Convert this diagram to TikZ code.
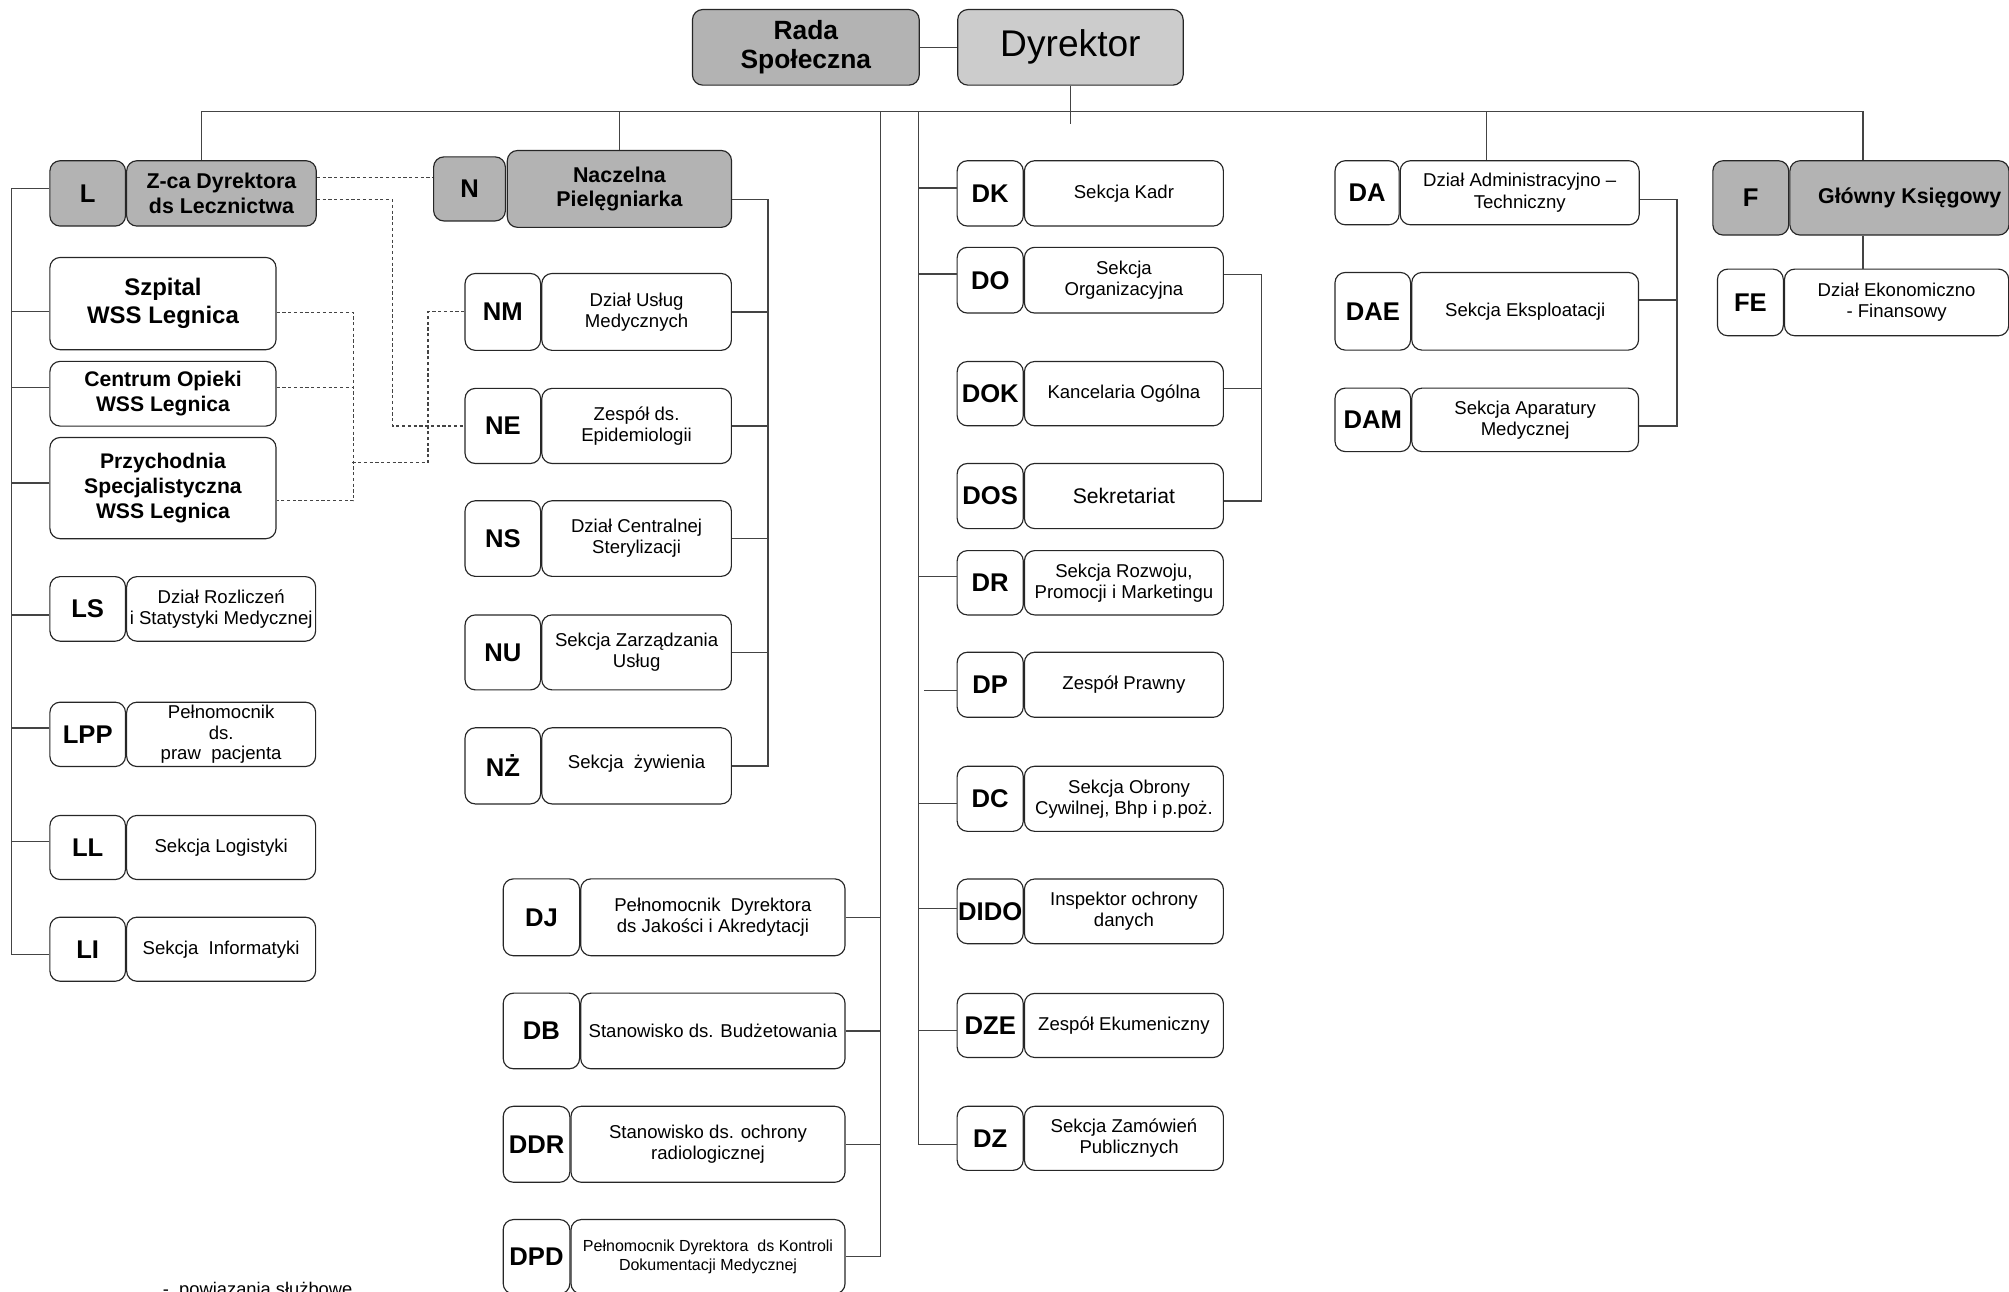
\documentclass[tikz,border=0pt]{standalone}
\usepackage{fontspec}
\setmainfont{Liberation Sans}
\usetikzlibrary{positioning}

\definecolor{headgray}{HTML}{B3B3B3}
\definecolor{topgray}{HTML}{CCCCCC}
\definecolor{linegray}{HTML}{444444}

\tikzset{
  unit/.style={draw=black!85, line width=0.9pt, rounded corners=8pt, inner sep=0pt,
    align=center, anchor=north west, font=\fontsize{14.5}{16.5}\selectfont},
  code/.style={unit, font=\bfseries\fontsize{20}{22}\selectfont},
  head/.style={fill=headgray, font=\bfseries\fontsize{16.7}{19}\selectfont},
  link/.style={draw=linegray, line width=1pt},
  aside/.style={draw=linegray, line width=0.9pt, dash pattern=on 2.5pt off 2pt},
}

\begin{document}
\begin{tikzpicture}[x=1pt,y=-1pt,node distance=0pt]
\useasboundingbox (0,0) rectangle (1568,1008);

% top
\node[unit, fill=headgray, minimum width=177, minimum height=59,
  font=\bfseries\fontsize{20.6}{23}\selectfont] (rada) at (540,7) {Rada\\Społeczna};
\node[unit, fill=topgray, minimum width=176, minimum height=59,
  font=\fontsize{29}{32}\selectfont] (dyr) at (747,7) {Dyrektor};

% Z-ca Dyrektora ds Lecznictwa
\node[code, head, font=\bfseries\fontsize{20}{22}\selectfont, minimum width=59, minimum height=51] (L) at (38.5,125) {L};
\node[unit, head, minimum width=148, minimum height=51, right=of L] (Zca) {Z-ca Dyrektora\\ds Lecznictwa};
\node[unit, minimum width=176.5, minimum height=72, font=\bfseries\fontsize{18.7}{21.5}\selectfont] (szp) at (38.5,200.5) {Szpital\\WSS Legnica};
\node[unit, minimum width=176.5, minimum height=50.5, font=\bfseries\fontsize{16.5}{19}\selectfont] (cop) at (38.5,281.6) {Centrum Opieki\\WSS Legnica};
\node[unit, minimum width=176.5, minimum height=79, font=\bfseries\fontsize{16.5}{19.5}\selectfont] (prz) at (38.5,341) {Przychodnia\\Specjalistyczna\\WSS Legnica};
\node[code, minimum width=59, minimum height=50.4] (LS) at (38.5,449.6) {LS};
\node[unit, minimum width=147.5, minimum height=50.4, right=of LS] (LSl) {Dział Rozliczeń\\i Statystyki Medycznej};
\node[code, minimum width=59, minimum height=50.2] (LPP) at (38.5,547.6) {LPP};
\node[unit, minimum width=147.5, minimum height=50.2, right=of LPP, font=\fontsize{14.5}{16}\selectfont] (LPPl) {Pełnomocnik\\ds.\\praw\ \ pacjenta};
\node[code, minimum width=59, minimum height=50] (LL) at (38.5,636) {LL};
\node[unit, minimum width=147.5, minimum height=50, right=of LL] (LLl) {Sekcja Logistyki};
\node[code, minimum width=59, minimum height=50] (LI) at (38.5,715.4) {LI};
\node[unit, minimum width=147.5, minimum height=50, right=of LI] (LIl) {Sekcja\ \ Informatyki};

% Naczelna Pielegniarka
\node[code, head, font=\bfseries\fontsize{20}{22}\selectfont, minimum width=56, minimum height=50] (N) at (338,122) {N};
\node[unit, head, minimum width=175, minimum height=60] (nacz) at (395.5,117) {Naczelna\\Pielęgniarka};
\node[code, minimum width=59, minimum height=60] (NM) at (362.5,213) {NM};
\node[unit, minimum width=148, minimum height=60, right=of NM] (NMl) {Dział Usług\\Medycznych};
\node[code, minimum width=59, minimum height=58.6] (NE) at (362.5,302.7) {NE};
\node[unit, minimum width=148, minimum height=58.6, right=of NE] (NEl) {Zespół ds.\\Epidemiologii};
\node[code, minimum width=59, minimum height=59] (NS) at (362.5,390.4) {NS};
\node[unit, minimum width=148, minimum height=59, right=of NS] (NSl) {Dział Centralnej\\Sterylizacji};
\node[code, minimum width=59, minimum height=58.5] (NU) at (362.5,479.5) {NU};
\node[unit, minimum width=148, minimum height=58.5, right=of NU] (NUl) {Sekcja Zarządzania\\Usług};
\node[code, minimum width=59, minimum height=59.4] (NZ) at (362.5,567.6) {NŻ};
\node[unit, minimum width=148, minimum height=59.4, right=of NZ] (NZl) {\raisebox{6pt}{Sekcja\ \ żywienia}};

% stanowiska przy Dyrektorze
\node[code, minimum width=59.6, minimum height=60] (DJ) at (392.3,685.5) {DJ};
\node[unit, minimum width=206.3, minimum height=60, right=of DJ] (DJl) {Pełnomocnik\ \ Dyrektora\\ds Jakości i Akredytacji};
\node[code, minimum width=59.6, minimum height=59] (DB) at (392.3,774.7) {DB};
\node[unit, minimum width=206.3, minimum height=59, right=of DB] (DBl) {Stanowisko ds. Budżetowania};
\node[code, minimum width=52, minimum height=59.3] (DDR) at (392.3,863) {DDR};
\node[unit, minimum width=213.9, minimum height=59.3, right=of DDR] (DDRl) {Stanowisko ds. ochrony\\radiologicznej};
\node[code, minimum width=52, minimum height=58] (DPD) at (392.3,951.4) {DPD};
\node[unit, minimum width=213.9, minimum height=58, right=of DPD, font=\fontsize{12.5}{14.5}\selectfont] (DPDl) {Pełnomocnik Dyrektora\ \ ds Kontroli\\Dokumentacji Medycznej};

% dzialy Dyrektora
\node[code, minimum width=51.6, minimum height=51] (DK) at (746.6,125) {DK};
\node[unit, minimum width=155.3, minimum height=51, right=of DK] (DKl) {Sekcja Kadr};
\node[code, minimum width=51.6, minimum height=51.3] (DO) at (746.6,192.6) {DO};
\node[unit, minimum width=155.3, minimum height=51.3, right=of DO] (DOl) {Sekcja\\Organizacyjna};
\node[code, minimum width=51.6, minimum height=50.2] (DOK) at (746.6,281.7) {DOK};
\node[unit, minimum width=155.3, minimum height=50.2, right=of DOK] (DOKl) {Kancelaria Ogólna};
\node[code, minimum width=51.6, minimum height=50.8] (DOS) at (746.6,361.3) {DOS};
\node[unit, minimum width=155.3, minimum height=50.8, right=of DOS, font=\fontsize{16.5}{19}\selectfont] (DOSl) {Sekretariat};
\node[code, minimum width=51.6, minimum height=50.2] (DR) at (746.6,429.3) {DR};
\node[unit, minimum width=155.3, minimum height=50.2, right=of DR] (DRl) {Sekcja Rozwoju,\\Promocji i Marketingu};
\node[code, minimum width=51.6, minimum height=50.8] (DP) at (746.6,508.6) {DP};
\node[unit, minimum width=155.3, minimum height=50.8, right=of DP] (DPl) {Zespół Prawny};
\node[code, minimum width=51.6, minimum height=50.8] (DC) at (746.6,597.6) {DC};
\node[unit, minimum width=155.3, minimum height=50.8, right=of DC] (DCl) {\ \ Sekcja Obrony\\Cywilnej, Bhp i p.poż.};
\node[code, minimum width=51.6, minimum height=50.5] (DIDO) at (746.6,685.6) {DIDO};
\node[unit, minimum width=155.3, minimum height=50.5, right=of DIDO] (DIDOl) {Inspektor ochrony\\danych};
\node[code, minimum width=51.6, minimum height=50] (DZE) at (746.6,774.9) {DZE};
\node[unit, minimum width=155.3, minimum height=50, right=of DZE] (DZEl) {Zespół Ekumeniczny};
\node[code, minimum width=51.6, minimum height=50] (DZ) at (746.6,863) {DZ};
\node[unit, minimum width=155.3, minimum height=50, right=of DZ] (DZl) {Sekcja Zamówień\\\ \ Publicznych};

% Dzial Administracyjno - Techniczny
\node[code, minimum width=50, minimum height=50] (DA) at (1041.5,125) {DA};
\node[unit, minimum width=186.5, minimum height=50, right=of DA] (DAl) {Dział Administracyjno –\\Techniczny};
\node[code, minimum width=59, minimum height=60.6] (DAE) at (1041.5,212.2) {DAE};
\node[unit, minimum width=177, minimum height=60.6, right=of DAE] (DAEl) {Sekcja Eksploatacji};
\node[code, minimum width=59, minimum height=49.5] (DAM) at (1041.5,302.5) {DAM};
\node[unit, minimum width=177, minimum height=49.5, right=of DAM] (DAMl) {Sekcja Aparatury\\Medycznej};

% Glowny Ksiegowy
\node[code, head, font=\bfseries\fontsize{20}{22}\selectfont, minimum width=59.2, minimum height=58] (F) at (1336.4,125) {F};
\node[unit, head, minimum width=171, minimum height=58, right=of F] (glow) {\hspace*{16pt}Główny Księgowy};
\node[code, minimum width=51.4, minimum height=52] (FE) at (1340,209.6) {FE};
\node[unit, minimum width=175, minimum height=52, right=of FE] (FEl) {Dział Ekonomiczno\\- Finansowy};

% legenda
\node[anchor=base west, inner sep=0pt, font=\fontsize{14.3}{16}\selectfont] (legend) at (127,1011.5) {-\ \ powiązania służbowe};

% magistrala
\coordinate (tapL) at (157,87);
\coordinate (tapD1) at (687,87);
\coordinate (tapD2) at (717,87);
\coordinate (tapA) at (1160,87);
\coordinate (tapF) at (1454,87);
\coordinate (cross) at (275,361);

\draw[link] (rada) -- (dyr);
\draw[link] (dyr.south) -- ++(0,30);
\draw[link] (tapL) -- (tapF);
\draw[link] (tapL) -- (tapL |- Zca.north);
\draw[link] (nacz.north |- tapL) -- (nacz.north);
\draw[link] (tapA) -- (tapA |- DAl.north);
\draw[link] (tapF) -- (tapF |- glow.north);
\draw[link] (tapF |- glow.south) -- (tapF |- FEl.north);

% pion lecznictwa
\draw[link] ([yshift=4]L.west) -- ++(-29.5,0) |- ([yshift=-4]LI.west);
\draw[link] ([yshift=-6]szp.west) -- ++(-29.5,0);
\draw[link] ([yshift=5]cop.west) -- ++(-29.5,0);
\draw[link] ([yshift=4]prz.west) -- ++(-29.5,0);
\draw[link] ([yshift=-4.7]LS.west) -- ++(-29.5,0);
\draw[link] ([yshift=5]LPP.west) -- ++(-29.5,0);
\draw[link] ([yshift=4.6]LL.west) -- ++(-29.5,0);

% pion pielegniarski
\draw[link] ([yshift=-8]nacz.east) -- ++(28,0) |- (NZl.east);
\draw[link] (NMl.east) -- ++(28.5,0);
\draw[link] (NEl.east) -- ++(28.5,0);
\draw[link] (NSl.east) -- ++(28.5,0);
\draw[link] (NUl.east) -- ++(28.5,0);

% powiazania funkcjonalne
\draw[aside] ([yshift=12.5]Zca.east) -- ([yshift=12.5]Zca.east -| N.west);
\draw[aside] ([yshift=-5]Zca.east) -- ++(59,0) |- (NE.west);
\draw[aside] ([yshift=-7]szp.east) -- ++(60,0) |- ([yshift=-10]prz.east);
\draw[aside] ([yshift=5]cop.east) -- ++(60,0);
\draw[aside] (cross) -- ++(59,0) |- (NM.west);

% stanowiska
\draw[link] (tapD1) |- (DPDl.east);
\draw[link] (DJl.east) -- (DJl.east -| tapD1);
\draw[link] (DBl.east) -- (DBl.east -| tapD1);
\draw[link] (DDRl.east) -- (DDRl.east -| tapD1);

% dzialy
\draw[link] (tapD2) |- ([yshift=-4.7]DZ.west);
\draw[link] ([yshift=4.3]DK.west) -- ([yshift=4.3]DK.west -| tapD2);
\draw[link] ([yshift=4.8]DO.west) -- ([yshift=4.8]DO.west -| tapD2);
\draw[link] ([yshift=4.7]DR.west) -- ([yshift=4.7]DR.west -| tapD2);
\draw[link, shorten >=4pt] ([yshift=-4.4]DP.west) -- ([yshift=-4.4]DP.west -| tapD2);
\draw[link] ([yshift=-3.4]DC.west) -- ([yshift=-3.4]DC.west -| tapD2);
\draw[link] ([yshift=2.5]DIDO.west) -- ([yshift=2.5]DIDO.west -| tapD2);
\draw[link] ([yshift=-4.2]DZE.west) -- ([yshift=-4.2]DZE.west -| tapD2);
\draw[link] ([yshift=4.3]DOl.east) -- ++(29.5,0) |- ([yshift=-3.8]DOSl.east);
\draw[link] ([yshift=4.3]DOKl.east) -- ++(29.5,0);

% administracja
\draw[link] ([yshift=-5]DAl.east) -- ++(29,0) |- ([yshift=-4.7]DAMl.east);
\draw[link] ([yshift=8.7]DAEl.east) -- ++(29,0);
\end{tikzpicture}
\end{document}
